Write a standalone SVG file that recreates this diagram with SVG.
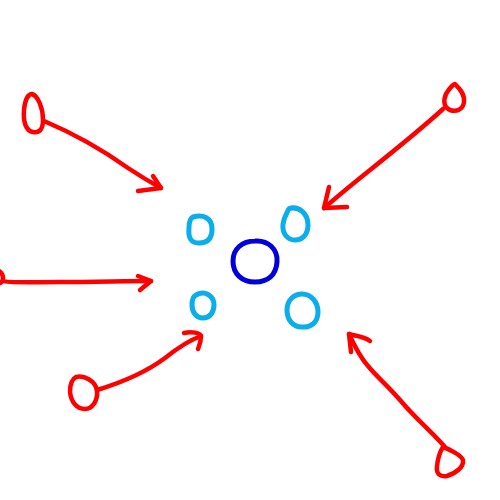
<svg xmlns="http://www.w3.org/2000/svg" width="500" height="500" viewBox="0 0 500 500">
<style>
.r{fill:none;stroke:#ff0000;stroke-width:4.5;stroke-linecap:round;stroke-linejoin:round}
.lb{fill:none;stroke:#09aeea;stroke-width:5}
.db{fill:none;stroke:#0000dd;stroke-width:5}
</style>
<rect width="500" height="500" fill="#ffffff"/>
<g id="center"><path class="db" d="M255,241 C268,240 278,249 277,262 C276,275 268,282 255,282 C242,282 233,274 233,261 C233,249 242,241 255,241 Z"/></g>
<g id="n-tl"><path class="lb" d="M193,217 C203,214 212,218 212,229 C212,240 206,243 199,243 C191,243 188,238 189,228 C189,221 191,218 193,217 Z"/></g>
<g id="n-tr"><path class="lb" d="M288,209 C298,205 308,213 308,225 C308,235 302,240 295,240 C287,240 282,233 283,224 C284,216 288,212 289,208"/></g>
<g id="n-bl"><path class="lb" d="M196,295 C205,290 214,296 214,305 C214,313 209,318 203,318 C196,318 192,312 192,305 C192,299 194,296 196,295 Z"/></g>
<g id="n-br"><path class="lb" d="M302,294 C311,294 318,302 318,312 C318,322 311,328 302,327 C293,327 287,320 287,310 C287,300 294,294 302,294 Z"/></g>
<g id="src-tl"><path class="r" d="M32,94 C38,96 43,108 43,120 C43,131 38,133 33,132 C26,131 23,122 24,110 C25,100 28,94 32,94 Z"/></g>
<g id="src-tr"><path class="r" d="M455,84 C459,88 465,94 464,102 C463,110 456,112 450,110 C444,108 443,101 446,94 C449,89 452,85 455,84 Z"/></g>
<g id="src-l"><path class="r" d="M-10,270 C-2,268 3,273 3,278 C3,283 -2,285 -8,284"/></g>
<g id="src-bl"><path class="r" d="M76,377 C84,375 96,381 97,391 C98,401 92,409 85,409 C76,409 71,401 70,392 C70,385 72,379 76,377 Z"/></g>
<g id="src-br"><path class="r" d="M443,447 C449,449 461,455 463,460 C464,467 456,473 447,476 C440,477 436,474 437,466 C438,457 441,450 443,447 Z"/></g>
<g id="connectors">
<path class="r" d="M44,121 C70,132 100,148 128,168 C140,176 150,182 161,188"/>
<path class="r" d="M153,176 L161,188 L138,191"/>
<path class="r" d="M443,109 C420,130 395,150 370,170 C355,182 338,196 324,208"/>
<path class="r" d="M329,187 L324,208 L347,207"/>
<path class="r" d="M3,281 C8,283 30,282 60,282 C95,282 125,281 151,281"/>
<path class="r" d="M138,276 L151,281 L140,290"/>
<path class="r" d="M97,390 C120,383 145,373 165,358 C180,346 190,340 201,336"/>
<path class="r" d="M184,333 C192,331 200,333 201,336 C201,342 199,346 198,349"/>
<path class="r" d="M445,447 C430,430 415,418 400,400 C385,383 378,378 368,366 C360,357 354,345 349,334"/>
<path class="r" d="M351,352 L349,334 C355,336 363,336 370,341"/>
</g>
</svg>
